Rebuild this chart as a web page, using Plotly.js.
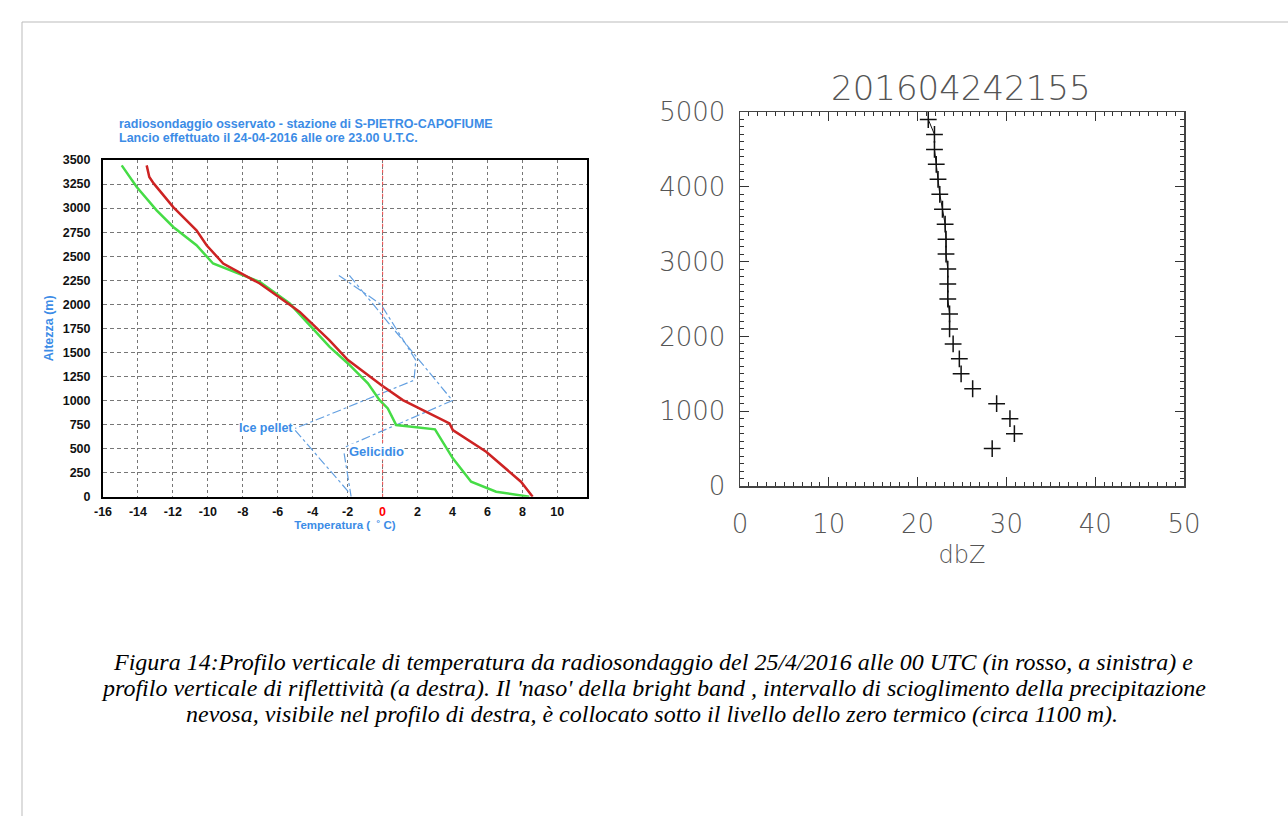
<!DOCTYPE html>
<html>
<head>
<meta charset="utf-8">
<script src="https://cdn.plot.ly/plotly-3.0.1.min.js"></script>
<style>
html,body{margin:0;padding:0;background:#fff;}
#chart{width:1288px;height:816px;}
</style>
</head>
<body>
<div id="chart"></div>
<script>
// ---- Left chart: radiosounding ----
const tempHeight = [0, 156, 467, 693, 762, 1004, 1160, 1420, 1627, 1921, 1973, 2216, 2424, 2614, 2769, 3011, 3254, 3323, 3444];
const tempValues = [8.59, 7.92, 5.93, 4.02, 3.83, 1.16, -0.08, -1.98, -3.05, -4.74, -5.13, -7.03, -9.12, -10.07, -10.65, -11.98, -13.09, -13.35, -13.5];
const dewHeight = [0, 52, 156, 399, 700, 745, 918, 1004, 1178, 1385, 1558, 1887, 2008, 2233, 2424, 2614, 2804, 2977, 3219, 3444];
const dewValues = [8.4, 6.5, 5.07, 4.02, 3.0, 0.78, 0.30, -0.17, -0.84, -1.98, -3.03, -4.74, -5.31, -7.03, -9.70, -10.65, -11.98, -12.93, -14.07, -14.93];
const icePelletT = [-2.5, -0.1, 1.9, 1.8, -5.0];
const icePelletH = [2300, 2000, 1420, 1210, 710];
const icePelletLegT = [-5.0, -1.9];
const icePelletLegH = [690, 40];
const gelicidioT = [-1.9, 4.0, -2.1];
const gelicidioH = [2300, 1000, 520];
const gelicidioLegT = [-2.2, -1.8];
const gelicidioLegH = [450, 0];
const tempTicks = [-16, -14, -12, -10, -8, -6, -4, -2, 0, 2, 4, 6, 8, 10];
const heightTicks = [0, 250, 500, 750, 1000, 1250, 1500, 1750, 2000, 2250, 2500, 2750, 3000, 3250, 3500];

// ---- Right chart: reflectivity profile ----
const reflHeight = [500, 700, 900, 1100, 1300, 1500, 1700, 1900, 2100, 2300, 2500, 2700, 2900, 3100, 3300, 3500, 3700, 3900, 4100, 4300, 4500, 4700, 4900];
const reflDbz = [28.4, 30.9, 30.4, 28.9, 26.2, 24.9, 24.7, 24.0, 23.6, 23.6, 23.4, 23.4, 23.4, 23.2, 23.2, 23.1, 22.8, 22.5, 22.3, 22.1, 21.9, 21.9, 21.2];
const reflTicksX = [0, 10, 20, 30, 40, 50];
const reflTicksY = [0, 1000, 2000, 3000, 4000, 5000];

const W = 1288, H = 816;
const px = v => v / W, py = v => 1 - v / H;
const BLUE = 'rgb(60,140,230)';
const annBlue = 'rgb(100,160,225)';
const ARIAL = 'Liberation Sans, Arial, sans-serif';

const upperIdx = reflHeight.map((h, i) => i).filter(i => reflHeight[i] >= 2100);

const annLine = {color: annBlue, width: 1.2, dash: 'dashdot'};
const traces = [
  {x: icePelletT, y: icePelletH, xaxis: 'x', yaxis: 'y', mode: 'lines', line: annLine, hoverinfo: 'skip'},
  {x: icePelletLegT, y: icePelletLegH, xaxis: 'x', yaxis: 'y', mode: 'lines', line: annLine, hoverinfo: 'skip'},
  {x: gelicidioT, y: gelicidioH, xaxis: 'x', yaxis: 'y', mode: 'lines', line: annLine, hoverinfo: 'skip'},
  {x: gelicidioLegT, y: gelicidioLegH, xaxis: 'x', yaxis: 'y', mode: 'lines', line: annLine, hoverinfo: 'skip'},
  {x: dewValues, y: dewHeight, xaxis: 'x', yaxis: 'y', mode: 'lines', name: 'Td', line: {color: 'rgb(70,220,70)', width: 2.5}},
  {x: tempValues, y: tempHeight, xaxis: 'x', yaxis: 'y', mode: 'lines', name: 'T', line: {color: 'rgb(205,35,35)', width: 2.5}},
  {x: upperIdx.map(i => reflDbz[i]), y: upperIdx.map(i => reflHeight[i]), xaxis: 'x2', yaxis: 'y2', mode: 'lines', line: {color: '#111', width: 1}, hoverinfo: 'skip'},
  {x: reflDbz, y: reflHeight, xaxis: 'x2', yaxis: 'y2', mode: 'markers', name: 'dbZ',
   marker: {symbol: 'cross-thin-open', size: 12, color: '#111', line: {color: '#111', width: 1.5}}}
];

const leftTickFont = {family: ARIAL, size: 12.5, color: '#111', weight: 'bold'};
const rightFont = {family: 'DejaVu Sans, sans-serif', size: 26, color: '#555', weight: 300};

const layout = {
  width: W, height: H,
  margin: {l: 0, r: 0, t: 0, b: 0},
  paper_bgcolor: '#fff', plot_bgcolor: '#fff',
  showlegend: false,
  xaxis: {
    domain: [px(103), px(587)], anchor: 'y',
    range: [-16, 11.7], tickvals: tempTicks,
    ticktext: tempTicks.map(t => t === 0 ? '<span style="color:red">0</span>' : String(t)),
    tickfont: leftTickFont, ticks: '', showline: true, linecolor: '#000', linewidth: 2, mirror: true,
    showgrid: true, gridcolor: '#777', gridwidth: 1, griddash: 'dot', zeroline: false,
    ticklabelstandoff: 2,
    title: {text: 'Temperatura (  ˚ C)', font: {family: ARIAL, size: 11.5, color: BLUE, weight: 'bold'}, standoff: 2}
  },
  yaxis: {
    domain: [py(496.7), py(160)], anchor: 'x',
    range: [0, 3500], tickvals: heightTicks,
    tickfont: leftTickFont, ticks: '', showline: true, linecolor: '#000', linewidth: 2, mirror: true,
    showgrid: true, gridcolor: '#777', gridwidth: 1, griddash: '4px,3px', zeroline: false,
    ticklabelstandoff: 8,
    title: {text: 'Altezza (m)', font: {family: ARIAL, size: 12.5, color: BLUE, weight: 'bold'}, standoff: 6}
  },
  xaxis2: {
    domain: [px(740), px(1184)], anchor: 'y2',
    range: [0, 50], tickvals: reflTicksX, tickfont: rightFont,
    ticks: 'inside', ticklen: 9, tickcolor: '#333', tickwidth: 1,
    minor: {dtick: 1, ticks: 'inside', ticklen: 4, tickcolor: '#333', tickwidth: 1, showgrid: false},
    showline: true, linecolor: '#444', linewidth: 1.5, mirror: 'allticks',
    showgrid: false, zeroline: false, ticklabelstandoff: 14,
    title: {text: 'dbZ', font: {family: 'DejaVu Sans, sans-serif', size: 24, color: '#555', weight: 300}, standoff: 8}
  },
  yaxis2: {
    domain: [py(486), py(112)], anchor: 'x2',
    range: [0, 5000], tickvals: reflTicksY, tickfont: rightFont,
    ticks: 'inside', ticklen: 9, tickcolor: '#333', tickwidth: 1,
    minor: {dtick: 100, ticks: 'inside', ticklen: 4, tickcolor: '#333', tickwidth: 1, showgrid: false},
    showline: true, linecolor: '#444', linewidth: 1.5, mirror: 'allticks',
    showgrid: false, zeroline: false, ticklabelstandoff: 8
  },
  shapes: [
    {type: 'line', xref: 'x', yref: 'y', x0: 0, x1: 0, y0: 0, y1: 3500, line: {color: 'rgb(240,90,90)', width: 1.2, dash: 'dot'}},
    {type: 'line', xref: 'paper', yref: 'paper', x0: px(22), x1: 1, y0: py(22), y1: py(22), line: {color: '#bbb', width: 1}},
    {type: 'line', xref: 'paper', yref: 'paper', x0: px(22), x1: px(22), y0: py(22), y1: 0, line: {color: '#bbb', width: 1}}
  ],
  annotations: [
    {xref: 'paper', yref: 'paper', x: px(117), y: py(123.5), xanchor: 'left', yanchor: 'middle', showarrow: false,
     text: 'radiosondaggio osservato - stazione di S-PIETRO-CAPOFIUME', font: {family: ARIAL, size: 12.5, color: BLUE, weight: 'bold'}},
    {xref: 'paper', yref: 'paper', x: px(117), y: py(138), xanchor: 'left', yanchor: 'middle', showarrow: false,
     text: 'Lancio effettuato il 24-04-2016 alle ore 23.00 U.T.C.', font: {family: ARIAL, size: 12.5, color: BLUE, weight: 'bold'}},
    {xref: 'x', yref: 'y', x: -6.7, y: 713, showarrow: false, text: 'Ice pellet',
     font: {family: ARIAL, size: 12.5, color: BLUE, weight: 'bold'}, bgcolor: '#fff', borderpad: 0},
    {xref: 'x', yref: 'y', x: -0.35, y: 475, showarrow: false, text: 'Gelicidio',
     font: {family: ARIAL, size: 13, color: BLUE, weight: 'bold'}, bgcolor: '#fff', borderpad: 0},
    {xref: 'paper', yref: 'paper', x: px(961), y: py(88), xanchor: 'center', yanchor: 'middle', showarrow: false,
     text: '201604242155', font: {family: 'DejaVu Sans, sans-serif', size: 34, color: '#555', weight: 300}},
    {xref: 'paper', yref: 'paper', x: px(653), y: py(662), xanchor: 'center', yanchor: 'middle', showarrow: false,
     text: '<i>Figura 14:Profilo verticale di temperatura da radiosondaggio del 25/4/2016 alle 00 UTC (in rosso, a sinistra) e</i>',
     font: {family: 'Liberation Serif, Times New Roman, serif', size: 24, color: '#000'}},
    {xref: 'paper', yref: 'paper', x: px(653), y: py(688), xanchor: 'center', yanchor: 'middle', showarrow: false,
     text: "<i>profilo verticale di riflettività (a destra). Il 'naso' della bright band , intervallo di scioglimento della precipitazione</i>",
     font: {family: 'Liberation Serif, Times New Roman, serif', size: 24, color: '#000'}},
    {xref: 'paper', yref: 'paper', x: px(652), y: py(714), xanchor: 'center', yanchor: 'middle', showarrow: false,
     text: '<i>nevosa, visibile nel profilo di destra, è collocato sotto il livello dello zero termico (circa 1100 m).</i>',
     font: {family: 'Liberation Serif, Times New Roman, serif', size: 24, color: '#000'}}
  ]
};

Plotly.newPlot('chart', traces, layout, {staticPlot: true, displayModeBar: false});
</script>
</body>
</html>
